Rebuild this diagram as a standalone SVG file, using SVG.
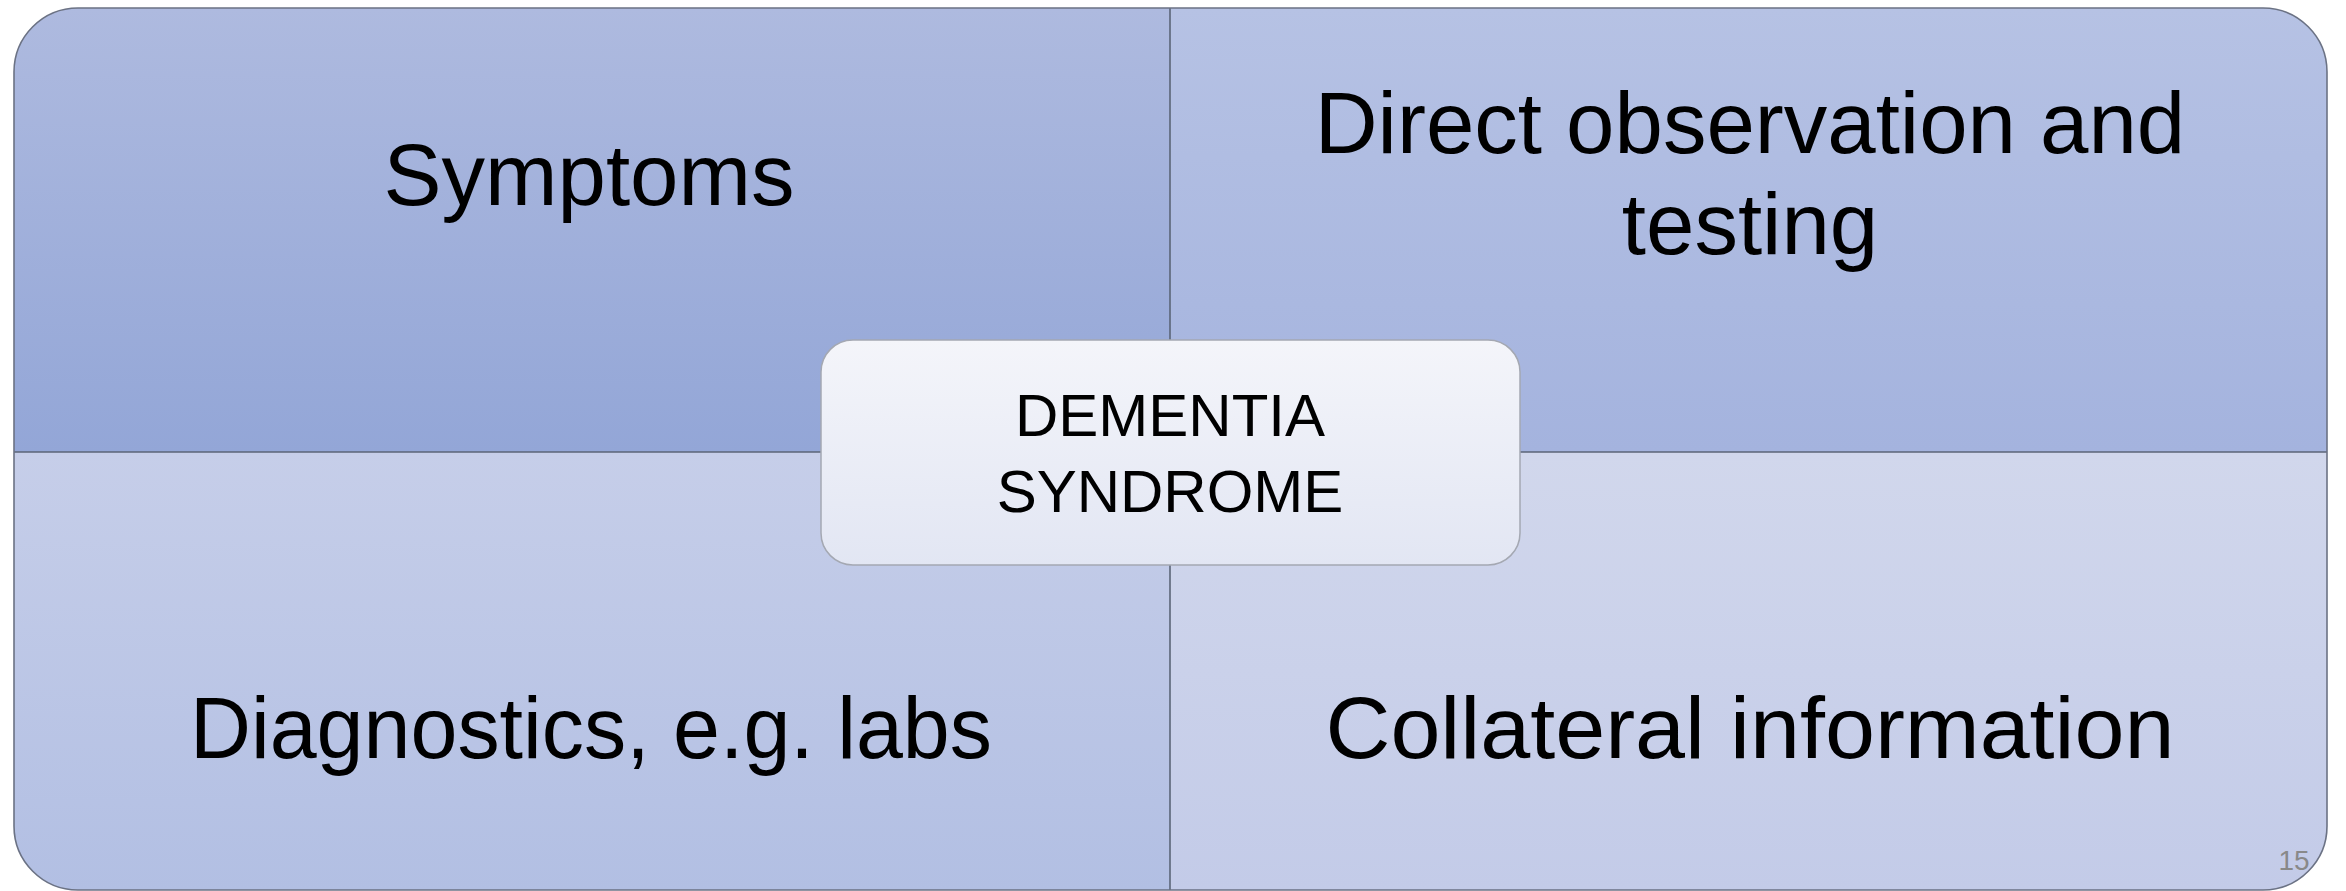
<svg xmlns="http://www.w3.org/2000/svg" width="2346" height="891" viewBox="0 0 2346 891">
  <style>
    .lbl { font-family: "Liberation Sans", Arial, sans-serif; fill: #000; text-anchor: middle; }
    .big { font-size: 87px; }
    .mid { font-size: 60px; }
    .div { stroke: #5b6577; stroke-width: 1.6; }
  </style>
  <defs>
    <clipPath id="outer">
      <rect x="14" y="8" width="2313" height="882" rx="64" ry="64"/>
    </clipPath>
    <linearGradient id="gTL" x1="0" y1="0" x2="0" y2="1">
      <stop offset="0" stop-color="#aebadf"/>
      <stop offset="1" stop-color="#93a6d7"/>
    </linearGradient>
    <linearGradient id="gTR" x1="0" y1="0" x2="0" y2="1">
      <stop offset="0" stop-color="#b6c2e4"/>
      <stop offset="1" stop-color="#a4b3de"/>
    </linearGradient>
    <linearGradient id="gBL" x1="0" y1="0" x2="0" y2="1">
      <stop offset="0" stop-color="#c6cee9"/>
      <stop offset="1" stop-color="#b2bfe3"/>
    </linearGradient>
    <linearGradient id="gBR" x1="0" y1="0" x2="0" y2="1">
      <stop offset="0" stop-color="#d1d7ec"/>
      <stop offset="1" stop-color="#c3cbe8"/>
    </linearGradient>
    <linearGradient id="gC" x1="0" y1="0" x2="0" y2="1">
      <stop offset="0" stop-color="#f4f5fa"/>
      <stop offset="1" stop-color="#e2e6f3"/>
    </linearGradient>
  </defs>

  <rect width="2346" height="891" fill="#ffffff"/>

  <g clip-path="url(#outer)">
    <g id="symptoms">
      <rect x="14" y="8" width="1156" height="444" fill="url(#gTL)"/>
      <text class="lbl big" x="589" y="205">Symptoms</text>
    </g>
    <g id="direct-observation">
      <rect x="1170" y="8" width="1157" height="444" fill="url(#gTR)"/>
      <text class="lbl big" x="1750" y="153">Direct observation and</text>
      <text class="lbl big" x="1750" y="254">testing</text>
    </g>
    <g id="diagnostics">
      <rect x="14" y="452" width="1156" height="438" fill="url(#gBL)"/>
      <text class="lbl big" x="591" y="758" textLength="802" lengthAdjust="spacingAndGlyphs">Diagnostics, e.g. labs</text>
    </g>
    <g id="collateral">
      <rect x="1170" y="452" width="1157" height="438" fill="url(#gBR)"/>
      <text class="lbl big" x="1750" y="758" textLength="849" lengthAdjust="spacingAndGlyphs">Collateral information</text>
    </g>
    <g id="connectors">
      <line class="div" x1="1170" y1="8" x2="1170" y2="891"/>
      <line class="div" x1="14" y1="452" x2="2327" y2="452"/>
    </g>
  </g>
  <rect x="14" y="8" width="2313" height="882" rx="64" ry="64" fill="none" stroke="#6b7284" stroke-width="1.6"/>

  <g id="dementia-syndrome">
    <rect x="821" y="340" width="699" height="225" rx="32" ry="32" fill="url(#gC)" stroke="#a4a8b2" stroke-width="1.5"/>
    <text class="lbl mid" x="1170" y="436">DEMENTIA</text>
    <text class="lbl mid" x="1170" y="512">SYNDROME</text>
  </g>

  <g id="page-number">
    <text x="2294" y="870" font-family="Liberation Sans, Arial, sans-serif" font-size="28" fill="#898989" text-anchor="middle">15</text>
  </g>
</svg>
